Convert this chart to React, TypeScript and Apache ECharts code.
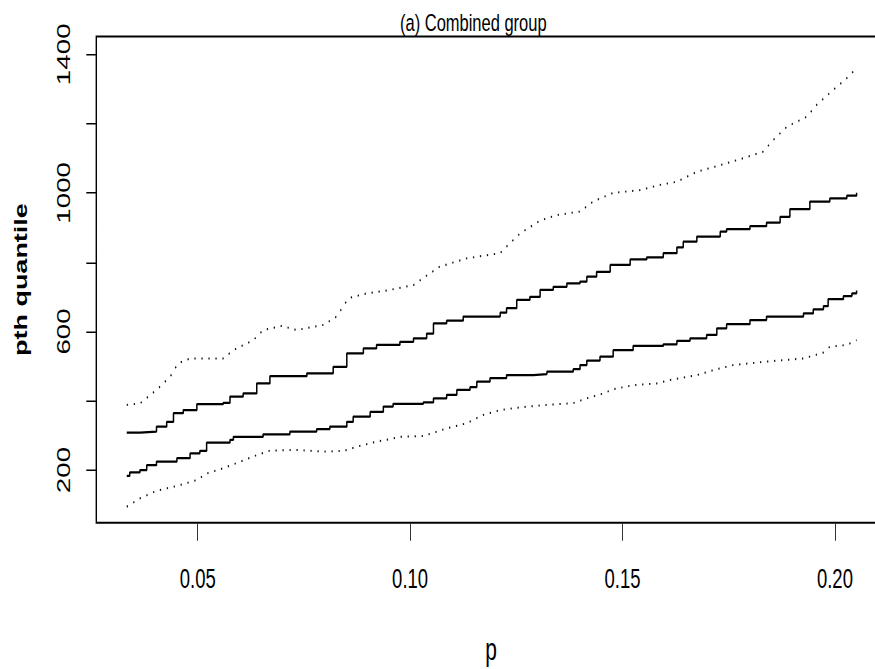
import React, { useEffect, useRef } from "react";
import * as echarts from "echarts";

// The reference is vertically stretched; we draw in a compressed frame and scale it back.
const STRETCH = 1.5;
const W = 875;
const H = 669;
const CH = H / STRETCH;

const xTicks = [0.05, 0.1, 0.15, 0.2];
const yTicks = [200, 400, 600, 800, 1000, 1200, 1400];
const yLabels = [200, 600, 1000, 1400];

// upper confidence band (dotted)
const upperBandP = [0.0333, 0.0364, 0.0403, 0.0435, 0.0454, 0.0482, 0.056, 0.0584, 0.0631, 0.0654, 0.0698, 0.0733, 0.0796, 0.0827, 0.0855, 0.0898, 0.0945, 0.1008, 0.1047, 0.107, 0.1133, 0.1212, 0.1227, 0.1259, 0.1306, 0.1345, 0.14, 0.1431, 0.1478, 0.1541, 0.1588, 0.1628, 0.1675, 0.173, 0.1784, 0.1831, 0.1855, 0.1887, 0.1934, 0.1957, 0.1996, 0.2028, 0.2051];
const upperBandQ = [388, 392, 431, 469, 508, 522, 522, 546, 575, 604, 616, 604, 619, 643, 696, 710, 718, 734, 768, 787, 811, 826, 845, 883, 920, 936, 946, 975, 1000, 1008, 1023, 1032, 1061, 1080, 1100, 1119, 1153, 1191, 1220, 1254, 1297, 1331, 1360];

// upper estimate (solid step)
const upperEstP = [0.0333, 0.0364, 0.0403, 0.0427, 0.0443, 0.0466, 0.0498, 0.056, 0.0576, 0.0607, 0.0639, 0.067, 0.0757, 0.0819, 0.0851, 0.089, 0.0921, 0.0953, 0.0976, 0.1008, 0.1039, 0.1055, 0.1086, 0.1125, 0.1212, 0.1227, 0.1251, 0.1282, 0.1306, 0.1337, 0.1369, 0.14, 0.1416, 0.1439, 0.1471, 0.1518, 0.1557, 0.1596, 0.1628, 0.1643, 0.1675, 0.173, 0.1745, 0.18, 0.1839, 0.1871, 0.1894, 0.1941, 0.1988, 0.2028, 0.2051];
const upperEstQ = [308, 311, 325, 339, 364, 373, 390, 394, 412, 421, 450, 471, 479, 498, 537, 551, 561, 561, 570, 580, 594, 623, 631, 643, 654, 667, 691, 700, 720, 729, 739, 744, 758, 772, 792, 808, 814, 826, 843, 859, 874, 888, 895, 904, 914, 931, 953, 975, 984, 992, 1000];

// lower estimate (solid step)
const lowerEstP = [0.0333, 0.034, 0.0364, 0.038, 0.0403, 0.0451, 0.0482, 0.0505, 0.0521, 0.0576, 0.0584, 0.0654, 0.0717, 0.078, 0.0811, 0.0851, 0.0866, 0.0906, 0.0937, 0.096, 0.1031, 0.1055, 0.1086, 0.111, 0.1141, 0.1157, 0.1188, 0.1227, 0.129, 0.1322, 0.1384, 0.14, 0.1416, 0.1447, 0.1478, 0.1525, 0.1596, 0.1628, 0.1659, 0.1698, 0.1722, 0.1745, 0.18, 0.1839, 0.1926, 0.1949, 0.1973, 0.1984, 0.202, 0.204, 0.2051];
const lowerEstQ = [183, 193, 200, 214, 224, 234, 248, 255, 279, 287, 296, 303, 311, 318, 325, 339, 354, 368, 383, 391, 395, 407, 417, 431, 439, 455, 465, 474, 477, 484, 491, 503, 516, 527, 546, 558, 563, 573, 580, 590, 609, 621, 633, 643, 652, 664, 673, 693, 702, 710, 718];

// lower confidence band (dotted)
const lowerBandP = [0.0333, 0.0364, 0.0403, 0.0451, 0.0498, 0.0521, 0.056, 0.06, 0.0639, 0.067, 0.0733, 0.0796, 0.0843, 0.0874, 0.0921, 0.0953, 0.0976, 0.1031, 0.1086, 0.1133, 0.1172, 0.1212, 0.1259, 0.1322, 0.1384, 0.1416, 0.1455, 0.1478, 0.1525, 0.1581, 0.1612, 0.1675, 0.1722, 0.1761, 0.1839, 0.1926, 0.1973, 0.1988, 0.2028, 0.2051];
const lowerBandQ = [94, 118, 140, 154, 171, 190, 205, 224, 243, 256, 258, 253, 255, 267, 282, 289, 296, 298, 320, 335, 359, 373, 381, 388, 393, 407, 421, 433, 445, 450, 460, 474, 491, 503, 513, 522, 539, 556, 561, 575];

const zip = (p: number[], q: number[]) => p.map((v, i) => [v, q[i]]);

const FONT = "Liberation Sans, Arial, Helvetica, sans-serif";

export default function App() {
  const ref = useRef<HTMLDivElement>(null);
  useEffect(() => {
    document.body.style.margin = "0";
    const chart = echarts.init(ref.current!, null, { renderer: "svg" });
    const dotted = { color: "#111", width: 1.3, type: [1.3, 5.7] as any };
    const solid = { color: "#000", width: 1.5 };
    chart.setOption({
      animation: false,
      backgroundColor: "#fff",
      textStyle: { fontFamily: FONT },
      title: {
        text: "(a) Combined group",
        left: 400,
        top: 6.25,
        padding: 0,
        textStyle: { fontFamily: FONT, fontSize: 16.5, fontWeight: "normal", color: "#000" },
      },
      grid: {
        left: 96.3,
        right: -10.9,
        top: 24.33,
        bottom: 97.53,
        outerBoundsMode: "none",
        containLabel: false,
        show: true,
        borderColor: "#000",
        borderWidth: 1.4,
        backgroundColor: "transparent",
      },
      xAxis: {
        type: "value",
        min: 0.02613,
        max: 0.212,
        name: "p",
        nameLocation: "middle",
        nameGap: 73.7,
        nameTextStyle: { fontFamily: FONT, fontSize: 21, color: "#000" },
        axisLine: { show: false },
        splitLine: { show: false },
        axisTick: { customValues: xTicks, length: 12, lineStyle: { color: "#333", width: 1 } },
        axisLabel: {
          customValues: xTicks,
          formatter: (v: number) => v.toFixed(2),
          margin: 27.6,
          fontSize: 18.5,
          color: "#000",
          fontFamily: FONT,
        },
      },
      yAxis: {
        type: "value",
        min: 47.9,
        max: 1451.4,
        name: "pth quantile",
        nameLocation: "middle",
        nameGap: 66.9,
        nameTextStyle: { fontFamily: FONT, fontSize: 18, fontWeight: "bold", color: "#000" },
        axisLine: { show: false },
        splitLine: { show: false },
        axisTick: { customValues: yTicks, length: 10, lineStyle: { color: "#000", width: 1 } },
        axisLabel: {
          customValues: yLabels,
          formatter: (v: number) => String(Math.round(v)),
          rotate: 90,
          margin: 23,
          fontSize: 18.5,
          color: "#000",
          fontFamily: FONT,
        },
      },
      series: [
        { type: "line", name: "upper band", data: zip(upperBandP, upperBandQ), showSymbol: false, lineStyle: dotted },
        { type: "line", name: "upper estimate", step: "end", data: zip(upperEstP, upperEstQ), showSymbol: false, lineStyle: solid },
        { type: "line", name: "lower estimate", step: "end", data: zip(lowerEstP, lowerEstQ), showSymbol: false, lineStyle: solid },
        { type: "line", name: "lower band", data: zip(lowerBandP, lowerBandQ), showSymbol: false, lineStyle: dotted },
      ],
    });
    return () => chart.dispose();
  }, []);
  return (
    <div style={{ width: W, height: H, overflow: "hidden", background: "#fff" }}>
      <div
        ref={ref}
        style={{ width: W, height: CH, transform: `scaleY(${STRETCH})`, transformOrigin: "0 0" }}
      />
    </div>
  );
}
